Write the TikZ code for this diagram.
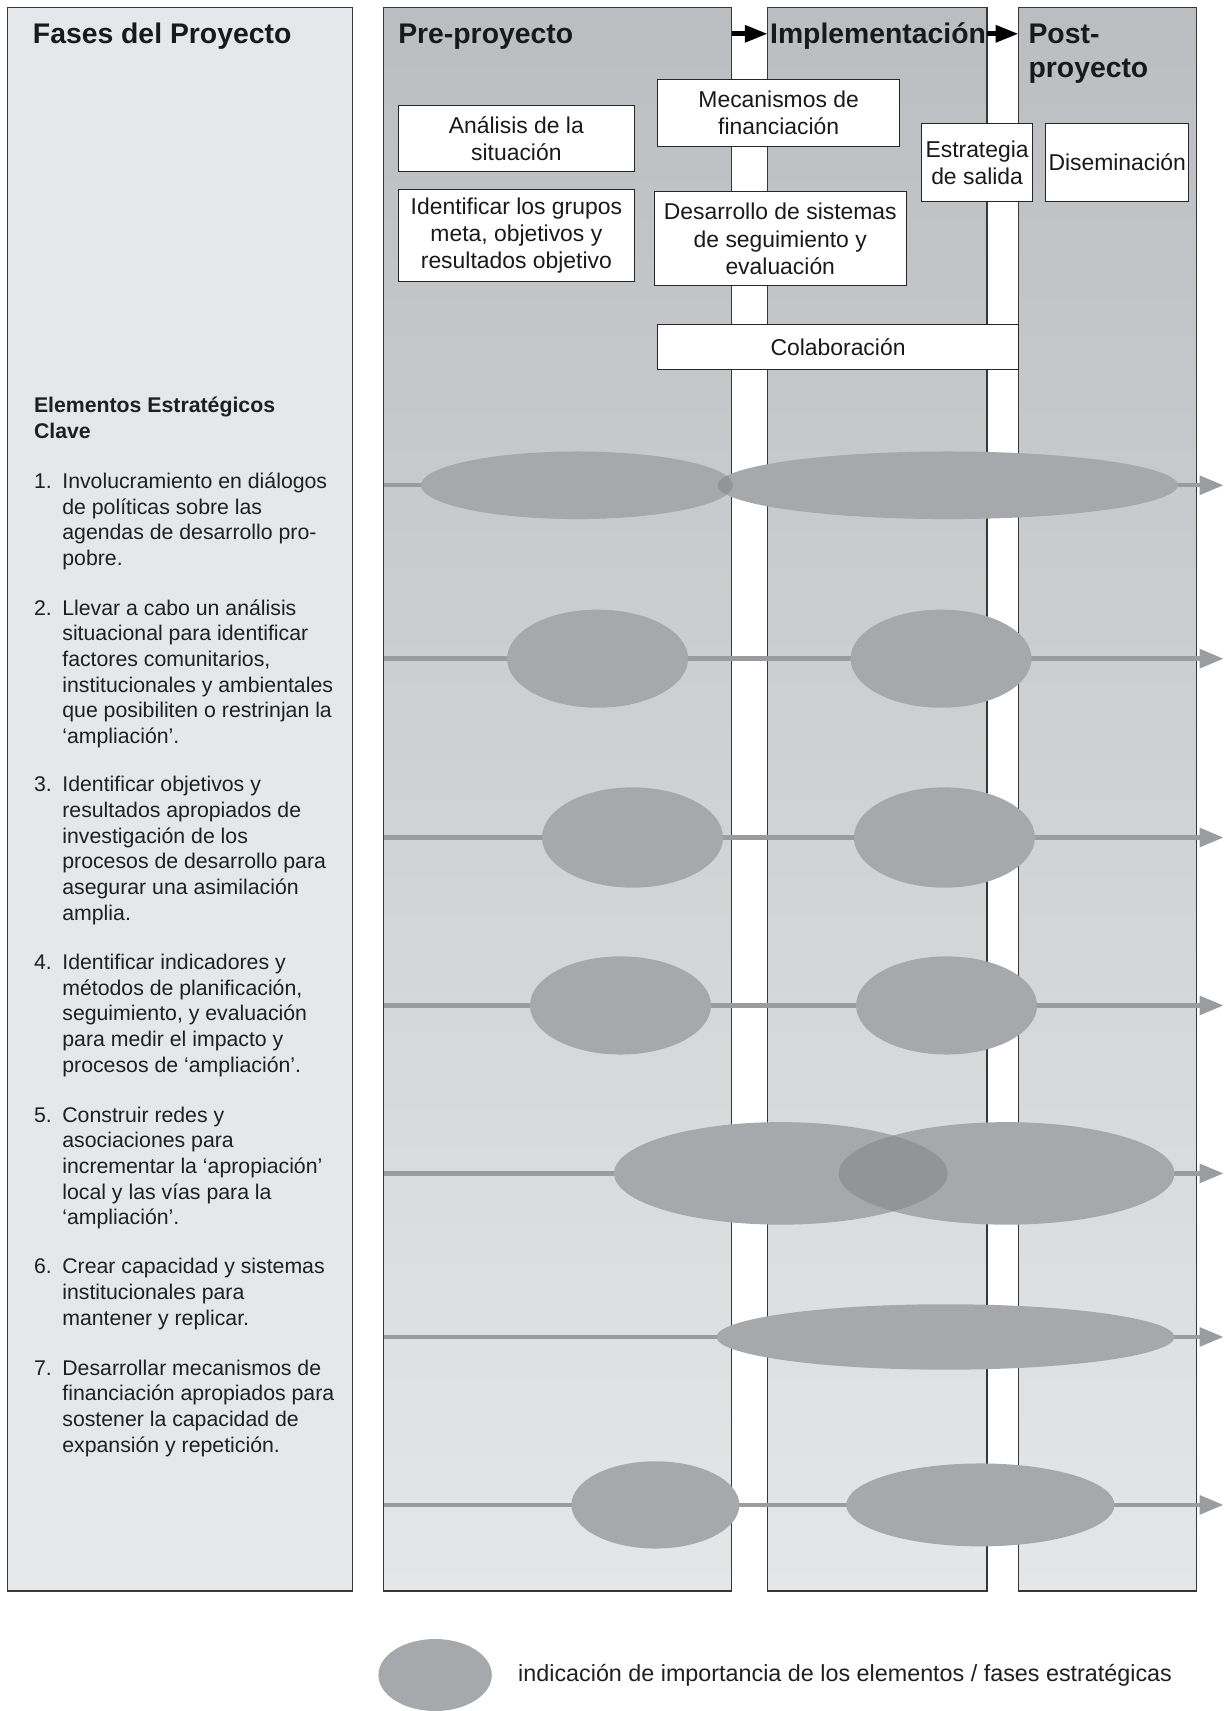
\documentclass[tikz,border=0pt]{standalone}
\usepackage{fontspec}
\setmainfont{Liberation Sans}
\usetikzlibrary{shapes.geometric,arrows.meta}
\definecolor{panelTop}{RGB}{188,189,192}
\definecolor{panelBot}{RGB}{229,230,231}
\definecolor{leftPanel}{RGB}{230,231,232}
\definecolor{ellFill}{RGB}{167,168,171}
\definecolor{ellDark}{RGB}{147,148,151}
\definecolor{rowLine}{RGB}{155,156,160}
\definecolor{edgeCol}{RGB}{55,55,55}
\begin{document}
\begin{tikzpicture}[x=1pt,y=-1pt,
  phasepanel/.style={draw=edgeCol, line width=1.1pt, inner sep=0pt, outer sep=0pt,
    top color=panelTop, bottom color=panelBot, minimum height=1452pt},
  leftpanel/.style={draw=edgeCol, line width=1.1pt, inner sep=0pt, outer sep=0pt,
    fill=leftPanel, minimum height=1452pt},
  hdr/.style={font=\fontsize{26}{30}\selectfont\bfseries, inner sep=0pt, text=black!90},
  wbox/.style={draw=black!85, line width=0.9pt, fill=white, align=center, inner sep=0pt,
    font=\fontsize{21}{25}\selectfont, text=black!90},
  listtxt/.style={anchor=north west, align=left, inner sep=0pt,
    font=\fontsize{19.5}{23.5}\selectfont, text=black!88},
  ell/.style={ellipse, fill=ellFill, draw=none, inner sep=0pt},
  rowarrow/.style={draw=rowLine, line width=4pt, -{Triangle[length=22pt,width=17pt]}},
  toparrow/.style={draw=black, line width=4.5pt, -{Triangle[length=21pt,width=15pt]}}
]
\useasboundingbox (0,0) rectangle (1123,1569);

% panels
\node[leftpanel, minimum width=316pt] (fases) at (165,733) {};
\node[phasepanel, minimum width=319pt] (pre) at (511.5,733) {};
\node[phasepanel, minimum width=201pt] (impl) at (804.5,733) {};
\node[phasepanel, minimum width=163pt] (post) at (1015.5,733) {};

% headers
\node[hdr, anchor=base west] (tfases) at (30,40) {Fases del Proyecto};
\node[hdr, anchor=base west] (tpre) at (365,40) {Pre-proyecto};
\node[hdr, anchor=base west] (timpl) at (706,40) {Implementación};
\node[hdr, anchor=base west] (tpost1) at (943,40) {Post-};
\node[hdr, anchor=base west] (tpost2) at (943,71) {proyecto};

\coordinate (hy) at (0,31);
\draw[toparrow] (pre.east |- hy) -- (impl.west |- hy);
\draw[toparrow] (impl.east |- hy) -- (post.west |- hy);

% boxes
\node[wbox, minimum width=217pt, minimum height=60pt] (analisis) at (473.5,127) {Análisis de la\\situación};
\node[wbox, minimum width=217pt, minimum height=84pt] (grupos) at (473.5,216) {Identificar los grupos\\meta, objetivos y\\resultados objetivo};
\node[wbox, minimum width=222pt, minimum height=61pt] (mecan) at (714,103.5) {Mecanismos de\\financiación};
\node[wbox, minimum width=231pt, minimum height=86pt] (desar) at (715.5,219) {Desarrollo de sistemas\\de seguimiento y\\evaluación};
\node[wbox, minimum width=102pt, minimum height=72pt] (estrat) at (896,149) {Estrategia\\de salida};
\node[wbox, minimum width=131pt, minimum height=72pt] (disem) at (1024.5,149) {Diseminación};
\node[wbox, minimum width=331pt, minimum height=41pt] (colab) at (768.5,318.5) {Colaboración};

% left text
\node[listtxt, font=\fontsize{19.5}{23.5}\selectfont\bfseries] (elem) at (31,361.5) {\strut Elementos Estratégicos\\Clave};
\node[listtxt] (n1) at (31,431.5) {\strut 1.};
\node[listtxt] (i1) at (57,431.5) {\strut Involucramiento en diálogos\\de políticas sobre las\\agendas de desarrollo pro-\\pobre.};
\node[listtxt] (n2) at (31,547.5) {\strut 2.};
\node[listtxt] (i2) at (57,547.5) {\strut Llevar a cabo un análisis\\situacional para identificar\\factores comunitarios,\\institucionales y ambientales\\que posibiliten o restrinjan la\\‘ampliación’.};
\node[listtxt] (n3) at (31,709.5) {\strut 3.};
\node[listtxt] (i3) at (57,709.5) {\strut Identificar objetivos y\\resultados apropiados de\\investigación de los\\procesos de desarrollo para\\asegurar una asimilación\\amplia.};
\node[listtxt] (n4) at (31,872.5) {\strut 4.};
\node[listtxt] (i4) at (57,872.5) {\strut Identificar indicadores y\\métodos de planificación,\\seguimiento, y evaluación\\para medir el impacto y\\procesos de ‘ampliación’.};
\node[listtxt] (n5) at (31,1012.5) {\strut 5.};
\node[listtxt] (i5) at (57,1012.5) {\strut Construir redes y\\asociaciones para\\incrementar la ‘apropiación’\\local y las vías para la\\‘ampliación’.};
\node[listtxt] (n6) at (31,1151.5) {\strut 6.};
\node[listtxt] (i6) at (57,1151.5) {\strut Crear capacidad y sistemas\\institucionales para\\mantener y replicar.};
\node[listtxt] (n7) at (31,1244.5) {\strut 7.};
\node[listtxt] (i7) at (57,1244.5) {\strut Desarrollar mecanismos de\\financiación apropiados para\\sostener la capacidad de\\expansión y repetición.};

% row arrows
\foreach \r/\y in {1/445,2/604,3/768,4/922,5/1076,6/1226,7/1380}{
  \coordinate (r\r) at (1122,\y);
  \draw[rowarrow] (pre.west |- r\r) -- (r\r);
}

% ellipses
\node[ell, minimum width=286pt, minimum height=62pt] (e1a) at (529,445) {};
\node[ell, minimum width=422pt, minimum height=62pt] (e1b) at (869,445) {};
\begin{scope}
  \clip (529,445) ellipse [x radius=143pt, y radius=31pt];
  \fill[ellDark] (869,445) ellipse [x radius=211pt, y radius=31pt];
\end{scope}
\node[ell, minimum width=166pt, minimum height=90pt] (e2a) at (548,604) {};
\node[ell, minimum width=166pt, minimum height=90pt] (e2b) at (863,604) {};
\node[ell, minimum width=166pt, minimum height=92pt] (e3a) at (580,768) {};
\node[ell, minimum width=166pt, minimum height=92pt] (e3b) at (866,768) {};
\node[ell, minimum width=166pt, minimum height=90pt] (e4a) at (569,922) {};
\node[ell, minimum width=166pt, minimum height=90pt] (e4b) at (868,922) {};
\node[ell, minimum width=306pt, minimum height=94pt] (e5a) at (716,1076) {};
\node[ell, minimum width=308pt, minimum height=94pt] (e5b) at (923,1076) {};
\begin{scope}
  \clip (716,1076) ellipse [x radius=153pt, y radius=47pt];
  \fill[ellDark] (923,1076) ellipse [x radius=154pt, y radius=47pt];
\end{scope}
\node[ell, minimum width=420pt, minimum height=60pt] (e6a) at (867,1226) {};
\node[ell, minimum width=154pt, minimum height=80pt] (e7a) at (601,1380) {};
\node[ell, minimum width=246pt, minimum height=76pt] (e7b) at (899,1380) {};

% legend
\node[ell, minimum width=104pt, minimum height=66pt] (leg) at (399,1536) {};
\node[anchor=west, inner sep=0pt, font=\fontsize{21.4}{25}\selectfont, text=black!88] (legtxt) at (475,1536) {indicación de importancia de los elementos / fases estratégicas};
\end{tikzpicture}
\end{document}
